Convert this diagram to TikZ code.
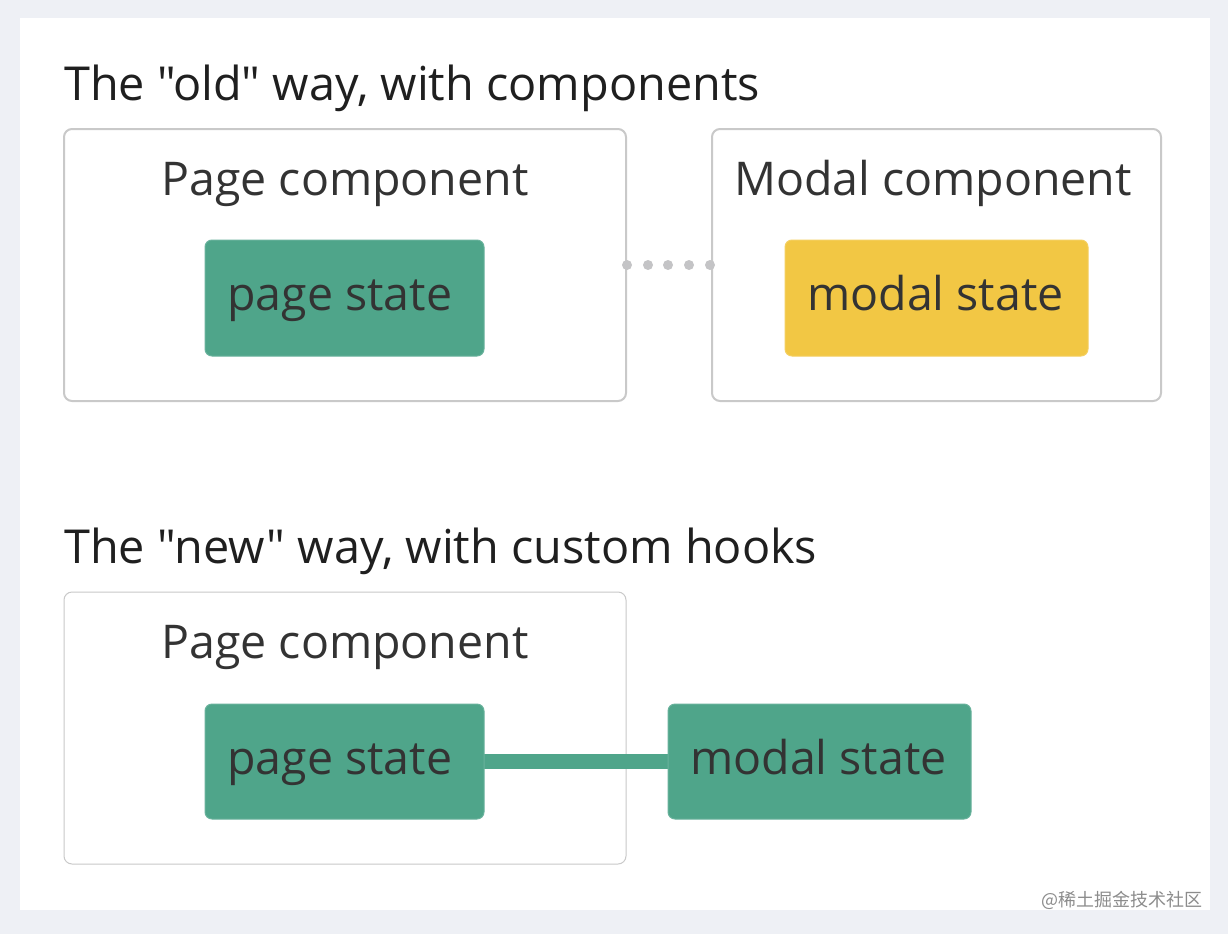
\documentclass[tikz,border=0pt]{standalone}
\usepackage{fontspec}
\setmainfont{Open Sans}[Ligatures=TeXOff]
\newfontfamily\cjk{Noto Sans CJK SC}
\definecolor{bgc}{HTML}{EEF0F5}
\definecolor{boxline}{HTML}{C9C9C9}
\definecolor{greenc}{HTML}{4FA58A}
\definecolor{yellowc}{HTML}{F2C744}
\definecolor{txt}{HTML}{333333}
\definecolor{dotc}{HTML}{C4C4C6}
\begin{document}
\begin{tikzpicture}[x=1pt,y=-1pt,
  frame/.style={draw=boxline,line width=2pt,rounded corners=8pt},
  statebox/.style={draw=#1!85!white,fill=#1,line width=1pt,rounded corners=7pt},
  lbl/.style={font=\fontsize{46.5}{52}\selectfont,text=txt,inner sep=0pt,anchor=base west},
  title/.style={font=\fontsize{46.8}{52}\selectfont,text=black!88,inner sep=0pt,anchor=base west}]
\useasboundingbox (0,0) rectangle (1228,934);
\fill[bgc] (0,0) rectangle (1228,934);
\fill[white] (20,18) rectangle (1210,910);
% old way
\node[title] (t1) at (64,100) {The "old" way, with components};
\draw[frame] (64,129) rectangle (626,401);
\node[lbl,anchor=base] (pc1) at (345,195) {Page component};
\draw[statebox=greenc] (205,240) rectangle (484,356);
\node[lbl] (ps1) at (227,310) {page state};
\draw[frame] (712,129) rectangle (1161,401);
\node[lbl,anchor=base] (mc1) at (933,195) {Modal component};
\draw[statebox=yellowc] (785,240) rectangle (1088,356);
\node[lbl] (ms1) at (807,310) {modal state};
\foreach \x in {627,648,668,689,710} \fill[dotc] (\x,265) circle (5);
% new way
\node[title] (t2) at (64,563) {The "new" way, with custom hooks};
\draw[frame,line width=1pt] (64,592) rectangle (626,864);
\node[lbl,anchor=base] (pc2) at (345,658) {Page component};
\fill[greenc] (484,754) rectangle (668,769);
\draw[statebox=greenc] (205,704) rectangle (484,819);
\node[lbl] (ps2) at (227,774) {page state};
\draw[statebox=greenc] (668,704) rectangle (971,819);
\node[lbl] (ms2) at (690,774) {modal state};
\node[font=\cjk\fontsize{18}{20}\selectfont,text=black!45,inner sep=0pt,anchor=base east] (wm) at (1203,906) {@稀土掘金技术社区};
\end{tikzpicture}
\end{document}
